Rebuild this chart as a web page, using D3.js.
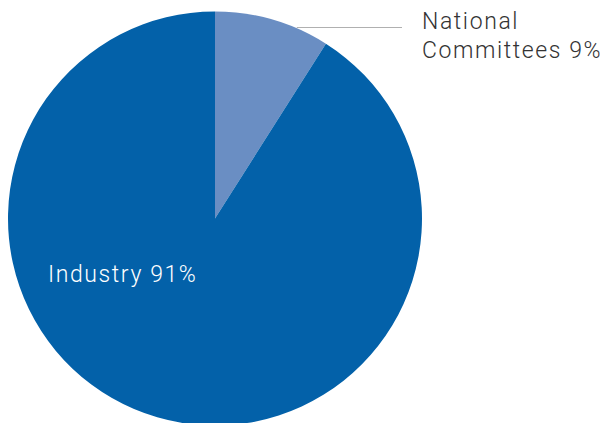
<!DOCTYPE html>
<html>
<head>
<meta charset="utf-8">
<script src="https://cdn.jsdelivr.net/npm/d3@7"></script>
<style>
html,body{margin:0;padding:0;background:#fff;}
svg{display:block;}
text{font-family:Roboto,"Liberation Sans",sans-serif;font-weight:300;}
</style>
</head>
<body>
<svg id="chart" width="606" height="423"></svg>
<script>
const categories = ["National Committees", "Industry"];
const values = [9, 91];
const labels = [["National", "Committees 9%"], ["Industry 91%"]];
const colors = ["#6A8EC3", "#0361A9"];

const svg = d3.select("#chart");
const cx = 215, cy = 218.5, r = 207;
const g = svg.append("g").attr("transform", `translate(${cx},${cy})`);

const pie = d3.pie().sort(null).value(d => d)(values);
const arc = d3.arc().innerRadius(0).outerRadius(r);

g.selectAll("path.slice").data(pie).join("path")
  .attr("class", "slice")
  .attr("d", arc)
  .attr("fill", (d, i) => colors[i]);

// leader line for small slice
const ly = 27.5 - cy;
const lx0 = Math.sqrt(r * r - ly * ly) + 2;
g.append("line")
  .attr("x1", lx0).attr("x2", 402 - cx)
  .attr("y1", ly).attr("y2", ly)
  .attr("stroke", "#b0b0b0").attr("stroke-width", 1);

// label national committees
const t1 = svg.append("text")
  .attr("x", 422).attr("y", 28.5)
  .attr("fill", "#333")
  .attr("font-size", 23)
  .attr("letter-spacing", 1.6);
labels[0].forEach((s, i) => {
  t1.append("tspan").attr("x", 422).attr("dy", i === 0 ? 0 : 29).text(s);
});

svg.append("text")
  .attr("x", 48).attr("y", 281.5)
  .attr("fill", "#fff")
  .attr("font-size", 23)
  .attr("letter-spacing", 1.6)
  .text(labels[1][0]);
</script>
</body>
</html>
